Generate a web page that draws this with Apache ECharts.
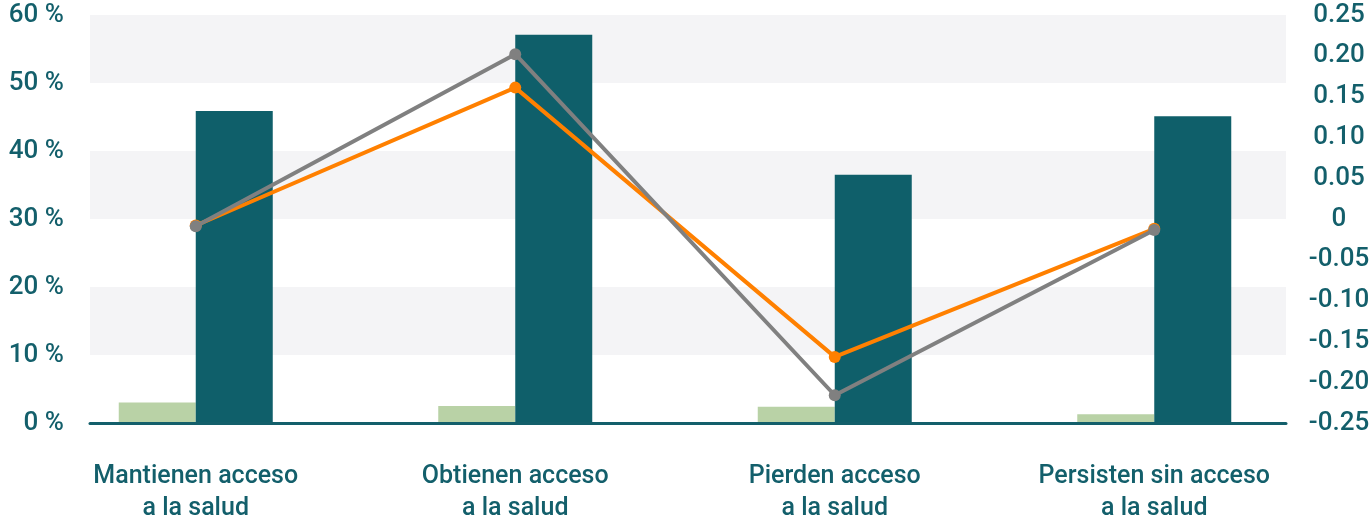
<!DOCTYPE html>
<html><head><meta charset="utf-8">
<script src="https://cdn.jsdelivr.net/npm/echarts@6/dist/echarts.min.js"></script>
<style>html,body{margin:0;padding:0;background:#fff}#c{width:1372px;height:518px}</style>
</head><body><div id="c"></div>
<script>
const categories = ['Mantienen acceso\na la salud', 'Obtienen acceso\na la salud', 'Pierden acceso\na la salud', 'Persisten sin acceso\na la salud'];
const greenBars = [3.0, 2.5, 2.4, 1.3];
const tealBars = [45.9, 57.1, 36.5, 45.1];
const orangeLine = [-0.008, 0.161, -0.169, -0.012];
const greyLine = [-0.009, 0.202, -0.216, -0.0135];
const leftTicks = [0, 10, 20, 30, 40, 50, 60];
const rightTicks = [-0.25, -0.2, -0.15, -0.1, -0.05, 0, 0.05, 0.1, 0.15, 0.2, 0.25];

const teal = '#135f6b';
const font = 'Roboto';
const chart = echarts.init(document.getElementById('c'));
chart.setOption({
  animation: false,
  grid: [
    {left: 90, width: 1196, top: 15, bottom: 95, outerBoundsMode: 'none', containLabel: false},
    {left: 36, width: 1278, top: 15, bottom: 95, outerBoundsMode: 'none', containLabel: false}
  ],
  xAxis: [
    {gridIndex: 0, type: 'category', data: categories, axisLine: {show: true, lineStyle: {color: teal, width: 3}}, axisTick: {show: false}, axisLabel: {show: false}, z: 10},
    {gridIndex: 1, type: 'category', data: categories, axisLine: {show: false}, axisTick: {show: false},
     axisLabel: {color: teal, fontFamily: font, fontSize: 25, fontWeight: 500, lineHeight: 32, margin: 38, interval: 0}}
  ],
  yAxis: [
    {gridIndex: 0, type: 'value', min: leftTicks[0], max: leftTicks[leftTicks.length - 1], interval: 10,
     axisLine: {show: false}, axisTick: {show: false}, splitLine: {show: false},
     splitArea: {show: true, areaStyle: {color: ['#ffffff', '#f4f4f6']}},
     axisLabel: {color: teal, fontFamily: font, fontSize: 26, fontWeight: 500, margin: 26, padding: [5, 0, 0, 0], formatter: v => v + ' %'}},
    {gridIndex: 0, type: 'value', position: 'right', min: rightTicks[0], max: rightTicks[rightTicks.length - 1], interval: 0.05,
     axisLine: {show: false}, axisTick: {show: false}, splitLine: {show: false},
     axisLabel: {color: teal, fontFamily: font, fontSize: 26, fontWeight: 500, margin: 53, align: 'center', padding: [6, 0, 0, 0],
       formatter: v => { const r = Math.round(v * 100) / 100; return r === 0 ? '0' : r.toFixed(2); }}},
    {gridIndex: 1, type: 'value', min: leftTicks[0], max: leftTicks[leftTicks.length - 1], show: false, splitLine: {show: false}},
    {gridIndex: 1, type: 'value', min: rightTicks[0], max: rightTicks[rightTicks.length - 1], show: false, splitLine: {show: false}}
  ],
  series: [
    {type: 'bar', xAxisIndex: 1, yAxisIndex: 2, data: greenBars, barWidth: 77, barGap: '0%', itemStyle: {color: '#b9d2a6'}},
    {type: 'bar', xAxisIndex: 1, yAxisIndex: 2, data: tealBars, barWidth: 77, barGap: '0%', itemStyle: {color: '#0f5f6a'}},
    {type: 'line', xAxisIndex: 1, yAxisIndex: 3, data: orangeLine, symbol: 'circle', symbolSize: 12,
     lineStyle: {color: '#ff8000', width: 4}, itemStyle: {color: '#ff8000'}, z: 5},
    {type: 'line', xAxisIndex: 1, yAxisIndex: 3, data: greyLine, symbol: 'circle', symbolSize: 12,
     lineStyle: {color: '#808080', width: 4}, itemStyle: {color: '#808080'}, z: 6}
  ]
});
</script></body></html>
